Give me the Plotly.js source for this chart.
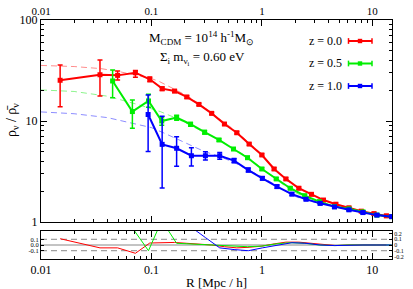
<!DOCTYPE html>
<html><head><meta charset="utf-8">
<script src="https://cdn.plot.ly/plotly-3.0.1.min.js"></script>
<style>html,body{margin:0;padding:0;background:#fff}#c{width:413px;height:289px}</style>
</head><body><div id="c"></div>
<script>
// ---- data ----
const rRed = [0.0149,0.0342,0.0494,0.0716,0.0966,0.125,0.162,0.209,0.269,0.351,0.458,0.593,0.767,1.0,1.29,1.65,2.16,2.81,3.61,4.67,6.14,7.94,10.35,13.4];
const yRed = [25.3,28.7,28.3,30.1,25.9,20.9,19.8,17.3,14.6,11.9,9.33,7.65,5.91,4.61,3.35,2.67,2.16,1.88,1.65,1.50,1.38,1.28,1.21,1.15];
const upRed = [10.5,11.5,3.0,1.5,1.3,0.8,0.6,0.5,0.4,0.3,0.25,0.2,0.15,0.12,0.09,0.07,0.06,0.05,0.045,0.04,0.04,0.035,0.035,0.035];
const dnRed = [11.5,11.0,2.8,3.0,1.5,0.8,0.6,0.5,0.4,0.3,0.25,0.2,0.15,0.12,0.09,0.07,0.06,0.05,0.045,0.04,0.04,0.035,0.035,0.035];
const resRed = [0.11,-0.05,-0.05,-0.145,0.035,0.04,0.045,0.03,0.02,0.0,-0.03,-0.05,-0.04,-0.02,0.02,0.05,0.05,0.03,0.0,-0.01,0.0,0.0,0.0,0.0];

const rGreen = [0.0445,0.0672,0.094,0.124,0.169,0.226,0.303,0.409,0.553,0.741,1.0,1.349,1.807,2.44,3.32,4.54,6.14,8.22,11.0,14.96];
const yGreen = [24.9,12.4,15.8,10.0,10.8,9.29,7.74,6.49,5.28,4.33,3.35,2.67,2.16,1.82,1.59,1.42,1.35,1.26,1.17,1.13];
const upGreen = [7.1,3.7,2.6,0.9,0.6,0.4,0.3,0.2,0.15,0.12,0.09,0.07,0.06,0.05,0.04,0.04,0.035,0.035,0.03,0.03];
const dnGreen = [7.9,3.9,2.1,0.9,0.6,0.4,0.3,0.2,0.15,0.12,0.09,0.07,0.06,0.05,0.04,0.04,0.035,0.035,0.03,0.03];
const resGreen = [0.7,0.30,-0.10,0.43,0.03,0.02,0.01,0.0,-0.02,-0.03,-0.02,0.02,0.04,0.03,0.0,-0.01,0.0,0.0,0.0,0.0];

const rBlue = [0.0933,0.125,0.169,0.230,0.308,0.415,0.560,0.753,1.01,1.37,1.87,2.51,3.37,4.54,6.14,8.22,11.0,14.96];
const yBlue = [11.6,5.87,5.37,4.53,4.53,4.53,4.05,3.27,2.71,2.24,1.89,1.68,1.53,1.41,1.32,1.24,1.17,1.13];
const upBlue = [6.5,5.3,1.6,0.9,0.43,0.35,0.2,0.15,0.1,0.08,0.06,0.05,0.045,0.04,0.035,0.035,0.03,0.03];
const dnBlue = [6.6,3.7,1.8,0.95,0.43,0.35,0.2,0.15,0.1,0.08,0.06,0.05,0.045,0.04,0.035,0.035,0.03,0.03];
const resBlue = [0.9,0.7,0.5,0.31,0.13,-0.05,-0.08,-0.1,-0.05,0.0,0.04,0.03,0.0,-0.01,0.0,0.0,0.0,0.0];

const rModelRed = [0.01,0.02,0.035,0.05,0.07,0.1,0.118,0.145,0.17,0.21,0.27,0.35,0.46,0.6,0.77,1.0,1.3,1.65,2.16,2.8,3.6,4.7,6.1,8,10.4,15];
const yModelRed = [35.5,34.6,33.0,31.0,28.6,26.3,24.6,22.0,20.3,17.8,14.8,12.0,9.5,7.75,6.05,4.68,3.4,2.62,2.12,1.85,1.65,1.5,1.38,1.28,1.21,1.12];
const rModelGreen = [0.01,0.02,0.04,0.078,0.12,0.17,0.22,0.3,0.41,0.55,0.74,1.0,1.35,1.8,2.44,3.3,4.5,6.1,8.2,11,15];
const yModelGreen = [20.3,19.6,17.6,14.4,12.4,10.6,9.2,7.7,6.5,5.35,4.42,3.38,2.62,2.08,1.76,1.57,1.42,1.34,1.25,1.17,1.12];
const rModelBlue = [0.01,0.02,0.04,0.078,0.1,0.13,0.19,0.3,0.415,0.556,0.73,1.0,1.37,1.87,2.5,3.37,4.5,6.1,8.2,11,15];
const yModelBlue = [12.3,11.8,10.8,9.2,8.6,7.6,6.27,5.0,4.45,3.9,3.35,2.8,2.28,1.84,1.64,1.53,1.42,1.32,1.24,1.17,1.12];

const xMajor = [0.01,0.1,1,10];
const xMajorText = ['0.01','0.1','1','10'];
const xMinor = [0.02,0.03,0.04,0.05,0.06,0.07,0.08,0.09,0.2,0.3,0.4,0.5,0.6,0.7,0.8,0.9,2,3,4,5,6,7,8,9];
const yMajor = [1,10,100];
const yMajorText = ['1','10','100'];
const yMinor = [2,3,4,5,6,7,8,9,20,30,40,50,60,70,80,90];
const resLeftVals = [-0.1,0,0.1];
const resLeftText = ['-0.1','0.0','0.1'];
const resRightVals = [-0.2,-0.1,0,0.1,0.2];
const resRightText = ['-0.2','-0.1','0','0.1','0.2'];

const series = [
  {name:'z = 0.0', color:'#ff0000', pale:'rgba(255,0,0,0.45)', r:rRed, y:yRed, up:upRed, dn:dnRed, res:resRed, mr:rModelRed, my:yModelRed},
  {name:'z = 0.5', color:'#00ee00', pale:'rgba(0,230,0,0.45)', r:rGreen, y:yGreen, up:upGreen, dn:dnGreen, res:resGreen, mr:rModelGreen, my:yModelGreen},
  {name:'z = 1.0', color:'#0000ff', pale:'rgba(0,0,255,0.45)', r:rBlue, y:yBlue, up:upBlue, dn:dnBlue, res:resBlue, mr:rModelBlue, my:yModelBlue}
];

const font = 'Liberation Serif, Times New Roman, serif';
const traces = [];
series.forEach(s => {
  traces.push({x:s.mr, y:s.my, xaxis:'x2', yaxis:'y2', mode:'lines', type:'scatter',
    line:{color:s.pale, width:1, dash:'6px,4px'}, hoverinfo:'skip', showlegend:false});
});
series.forEach(s => {
  traces.push({x:s.r, y:s.y, xaxis:'x2', yaxis:'y2', mode:'lines+markers', type:'scatter',
    line:{color:s.color, width:2}, marker:{symbol:'square', size:5, color:s.color},
    error_y:{type:'data', symmetric:false, array:s.up, arrayminus:s.dn, color:s.color, thickness:1.5, width:2.5},
    showlegend:false});
});
series.forEach(s => {
  traces.push({x:s.r, y:s.res, xaxis:'x', yaxis:'y', mode:'lines', type:'scatter',
    line:{color:s.color, width:1}, showlegend:false});
});
// invisible trace so the right-hand residual axis is drawn
traces.push({x:[0.01], y:[0], xaxis:'x', yaxis:'y3', mode:'markers', marker:{opacity:0}, showlegend:false, hoverinfo:'skip'});

const L = 41, R = 392, T = 20, B = 259;
const px = v => (v - L) / (R - L);
const py = v => (B - v) / (B - T);

const shapes = [
  {type:'line', xref:'paper', yref:'y', x0:0, x1:1, y0:0.1, y1:0.1, line:{color:'#888', width:1, dash:'6px,4px'}, layer:'below'},
  {type:'line', xref:'paper', yref:'y', x0:0, x1:1, y0:-0.1, y1:-0.1, line:{color:'#888', width:1, dash:'6px,4px'}, layer:'below'},
  {type:'line', xref:'paper', yref:'y', x0:0, x1:1, y0:0, y1:0, line:{color:'#888', width:1}, layer:'below'}
];
const annotations = [];
const legY = [41, 63.5, 86];
series.forEach((s, i) => {
  const yy = py(legY[i]);
  shapes.push({type:'line', xref:'paper', yref:'paper', x0:px(348.5), x1:px(372), y0:yy, y1:yy, line:{color:s.color, width:2}});
  shapes.push({type:'line', xref:'paper', yref:'paper', x0:px(348.5), x1:px(348.5), y0:yy-0.012, y1:yy+0.012, line:{color:s.color, width:1.5}});
  shapes.push({type:'line', xref:'paper', yref:'paper', x0:px(372), x1:px(372), y0:yy-0.012, y1:yy+0.012, line:{color:s.color, width:1.5}});
  shapes.push({type:'rect', xref:'paper', yref:'paper', x0:px(357.8), x1:px(362.2), y0:yy-0.0092, y1:yy+0.0092, fillcolor:s.color, line:{width:0}});
  annotations.push({xref:'paper', yref:'paper', x:px(344), y:yy, xanchor:'right', yanchor:'middle', showarrow:false,
    text:s.name, font:{family:font, size:12, color:'#000'}});
});
annotations.push({xref:'paper', yref:'paper', x:px(201), y:py(38), xanchor:'center', yanchor:'middle', showarrow:false,
  text:'M<sub>CDM</sub> = 10<sup>14</sup> h<sup>-1</sup>M<sub>⊙</sub>', font:{family:font, size:13, color:'#000'}});
annotations.push({xref:'paper', yref:'paper', x:px(202), y:py(58), xanchor:'center', yanchor:'middle', showarrow:false,
  text:'Σ<sub>i</sub> m<sub>ν<sub>i</sub></sub> = 0.60 eV', font:{family:font, size:13, color:'#000'}});
annotations.push({xref:'paper', yref:'paper', x:px(12), y:py(120), xanchor:'center', yanchor:'middle', showarrow:false, textangle:-90,
  text:'ρ<sub>ν</sub> / ρ̄<sub>ν</sub>', font:{family:font, size:14, color:'#000'}});
annotations.push({xref:'paper', yref:'paper', x:px(216), y:py(282), xanchor:'center', yanchor:'middle', showarrow:false,
  text:'R [Mpc / h]', font:{family:font, size:13, color:'#000'}});

const xr = [-2, 1.178];
const common = {showgrid:false, zeroline:false, showline:true, linecolor:'#000', linewidth:1, ticks:'inside', tickcolor:'#000'};
const layout = {
  width:413, height:289, margin:{l:L, r:413-R, t:T, b:289-B}, paper_bgcolor:'#fff', plot_bgcolor:'#fff',
  font:{family:font, size:11, color:'#000'}, showlegend:false,
  xaxis:Object.assign({}, common, {type:'log', range:xr, anchor:'y', side:'bottom', mirror:'ticks',
    tickmode:'array', tickvals:xMajor, ticktext:xMajorText, ticklen:6,
    minor:{tickmode:'array', tickvals:xMinor, ticks:'inside', ticklen:3, tickcolor:'#000'}, tickfont:{size:12}}),
  yaxis:Object.assign({}, common, {domain:[0, 28/239], range:[-0.245,0.245], anchor:'x', mirror:'ticks',
    tickmode:'array', tickvals:resLeftVals, ticktext:resLeftText, ticklen:3, tickfont:{size:6.5}}),
  yaxis3:Object.assign({}, common, {domain:[0, 28/239], range:[-0.245,0.245], overlaying:'y', side:'right', anchor:'x',
    tickmode:'array', tickvals:resRightVals, ticktext:resRightText, ticklen:3, tickfont:{size:6}}),
  xaxis2:Object.assign({}, common, {type:'log', range:xr, anchor:'y2', side:'top', mirror:'ticks',
    tickmode:'array', tickvals:xMajor, ticktext:xMajorText, ticklen:6,
    minor:{tickmode:'array', tickvals:xMinor, ticks:'inside', ticklen:3, tickcolor:'#000'}, tickfont:{size:11}}),
  yaxis2:Object.assign({}, common, {type:'log', range:[0,2], domain:[37/239, 1], anchor:'x2', mirror:'ticks',
    tickmode:'array', tickvals:yMajor, ticktext:yMajorText, ticklen:6,
    minor:{tickmode:'array', tickvals:yMinor, ticks:'inside', ticklen:3, tickcolor:'#000'}, tickfont:{size:12}}),
  shapes:shapes, annotations:annotations
};
Plotly.newPlot('c', traces, layout, {staticPlot:true, displayModeBar:false});
</script></body></html>
